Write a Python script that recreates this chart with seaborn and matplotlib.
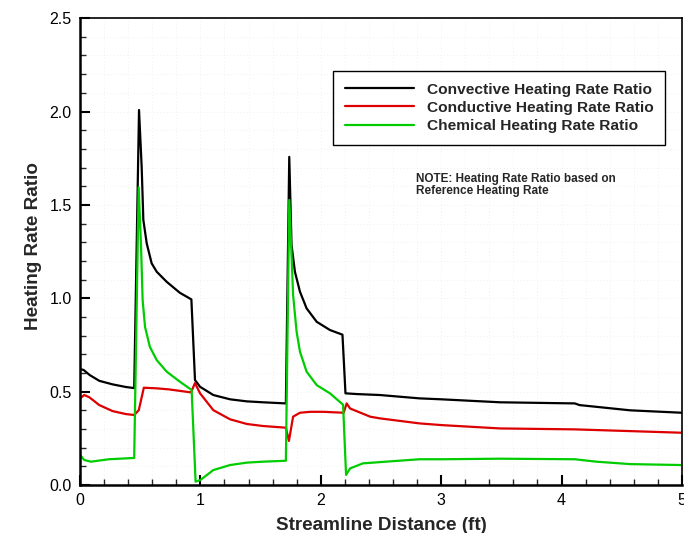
import numpy as np
import pandas as pd
import matplotlib
matplotlib.use("Agg")
import matplotlib.pyplot as plt
from matplotlib.ticker import MultipleLocator
import seaborn as sns

# Streamline positions (ft) and heating rate ratios for each mechanism
conv_x = [0.0, 0.03, 0.08, 0.16, 0.27, 0.38, 0.45, 0.49, 0.512, 0.526, 0.554,
          0.595, 0.637, 0.72, 0.83, 0.925, 0.955, 0.997, 1.107, 1.246, 1.385,
          1.52, 1.71, 1.738, 1.757, 1.785, 1.827, 1.882, 1.966, 2.076, 2.18,
          2.205, 2.30, 2.49, 2.82, 3.0, 3.49, 4.11, 4.15, 4.57, 5.0]
conv_y = [0.621, 0.616, 0.589, 0.558, 0.539, 0.525, 0.519, 2.008, 1.704, 1.419,
          1.294, 1.187, 1.142, 1.088, 1.029, 0.994, 0.562, 0.526, 0.482, 0.459,
          0.448, 0.443, 0.437, 1.757, 1.285, 1.142, 1.035, 0.946, 0.874, 0.83,
          0.805, 0.491, 0.487, 0.482, 0.464, 0.459, 0.443, 0.437, 0.428, 0.40,
          0.387]

cond_x = [0.0, 0.035, 0.077, 0.16, 0.27, 0.38, 0.45, 0.488, 0.53, 0.63, 0.74,
          0.922, 0.955, 0.997, 1.107, 1.246, 1.385, 1.52, 1.71, 1.735, 1.77,
          1.827, 1.91, 2.02, 2.19, 2.215, 2.243, 2.41, 2.49, 2.82, 3.0, 3.49,
          4.11, 5.0]
cond_y = [0.464, 0.482, 0.47, 0.428, 0.396, 0.38, 0.375, 0.401, 0.521, 0.518,
          0.512, 0.496, 0.546, 0.491, 0.401, 0.352, 0.327, 0.316, 0.307, 0.236,
          0.366, 0.387, 0.392, 0.392, 0.387, 0.437, 0.41, 0.366, 0.357, 0.33,
          0.321, 0.303, 0.298, 0.28]

chem_x = [0.0, 0.035, 0.09, 0.24, 0.45, 0.487, 0.507, 0.52, 0.54, 0.58, 0.637,
          0.72, 0.83, 0.927, 0.96, 1.0, 1.107, 1.246, 1.385, 1.52, 1.71, 1.738,
          1.757, 1.77, 1.799, 1.827, 1.882, 1.966, 2.076, 2.185, 2.21, 2.243,
          2.35, 2.54, 2.82, 3.0, 3.49, 4.11, 4.29, 4.57, 5.0]
chem_y = [0.161, 0.134, 0.125, 0.138, 0.145, 1.594, 1.276, 0.99, 0.847, 0.74,
          0.669, 0.607, 0.553, 0.509, 0.018, 0.027, 0.08, 0.107, 0.12, 0.125,
          0.13, 1.526, 1.231, 1.017, 0.821, 0.714, 0.607, 0.535, 0.491, 0.43,
          0.054, 0.089, 0.116, 0.125, 0.138, 0.138, 0.141, 0.138, 0.125, 0.112,
          0.107]

series_names = ["Convective Heating Rate Ratio",
                "Conductive Heating Rate Ratio",
                "Chemical Heating Rate Ratio"]
series_colors = ["#000000", "#dd0000", "#00cc00"]

frames = []
for name, xs, ys in zip(series_names, [conv_x, cond_x, chem_x],
                        [conv_y, cond_y, chem_y]):
    frames.append(pd.DataFrame({"distance": xs, "ratio": ys, "series": name}))
df = pd.concat(frames, ignore_index=True)

sns.set_theme(style="white")
plt.rcParams["font.family"] = ["Liberation Sans", "DejaVu Sans"]

fig = plt.figure(figsize=(6.84, 5.33), dpi=100)
ax = fig.add_axes([0.117, 0.09, 0.880, 0.876])

sns.lineplot(data=df, x="distance", y="ratio", hue="series",
             hue_order=series_names, palette=series_colors,
             sort=False, estimator=None, linewidth=1.6, ax=ax, legend=False)

ax.set_xlim(0, 5)
ax.set_ylim(0, 2.5)
ax.xaxis.set_major_locator(MultipleLocator(1))
ax.xaxis.set_minor_locator(MultipleLocator(0.2))
ax.yaxis.set_major_locator(MultipleLocator(0.5))
ax.yaxis.set_minor_locator(MultipleLocator(0.1))
ax.xaxis.set_major_formatter(matplotlib.ticker.FormatStrFormatter("%d"))
ax.yaxis.set_major_formatter(matplotlib.ticker.FormatStrFormatter("%.1f"))

ax.grid(True, which="both", color="#ebebeb", linestyle=(0, (1, 3)),
        linewidth=0.6)
ax.set_axisbelow(True)

ax.tick_params(axis="both", which="major", direction="in", length=7,
               width=1.5, labelsize=11.5, colors="black", pad=6,
               bottom=True, left=True, top=False, right=False)
ax.tick_params(axis="both", which="minor", direction="in", length=4,
               width=1.0, bottom=True, left=True, top=False, right=False)
for side in ["left", "bottom", "top", "right"]:
    ax.spines[side].set_visible(True)
    ax.spines[side].set_color("black")
ax.spines["left"].set_linewidth(1.8)
ax.spines["bottom"].set_linewidth(1.8)
ax.spines["top"].set_linewidth(1.2)
ax.spines["right"].set_linewidth(1.2)

ax.set_xlabel("Streamline Distance (ft)", fontsize=13.6, fontweight="bold",
              labelpad=6)
ax.set_ylabel("Heating Rate Ratio", fontsize=13.6, fontweight="bold")
ax.yaxis.set_label_coords(-0.063, 0.512)

handles = [matplotlib.lines.Line2D([], [], color=c, linewidth=1.6)
           for c in series_colors]
leg = ax.legend(handles, series_names, loc="upper left",
                bbox_to_anchor=(333 / 684, 1 - 71 / 533),
                bbox_transform=fig.transFigure,
                prop={"weight": "bold", "size": 11.15},
                frameon=True, fancybox=False, framealpha=1,
                edgecolor="black", handlelength=4.5, handletextpad=0.8,
                labelspacing=0.27, borderpad=0.75, borderaxespad=0)
leg.get_frame().set_linewidth(1.0)

ax.text(416 / 684, 1 - 185 / 533,
        "NOTE: Heating Rate Ratio based on\nReference Heating Rate",
        transform=fig.transFigure, fontsize=8.5, fontweight="bold",
        va="center", ha="left", linespacing=1.0)

fig.savefig("out.png", dpi=100)
